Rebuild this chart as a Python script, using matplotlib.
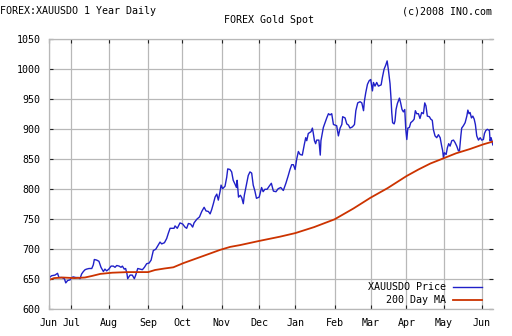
import pandas as pd
import matplotlib
matplotlib.use("Agg")
import matplotlib.pyplot as plt

# ---------------------------------------------------
# data (x = weekday count from START_DATE)
# ---------------------------------------------------
START_DATE = "2007-06-13"
N_DAYS = 261

PRICE_DAY = [
    0, 0.6, 1.6, 3.5, 5, 5.8, 7.4, 9, 9.8, 10.9, 12.3, 13.3, 14.2, 15.6, 17.2, 18.1,
    19.1, 20.1, 21.1, 22, 23.4, 25, 25.9, 26.5, 27.9, 29.2, 30.4, 31.8, 32.7, 33.7,
    35, 36.3, 37.6, 38.6, 39.6, 41, 42.1, 42.9, 44, 44.8, 45.6, 46, 47.4, 48.7, 49.9,
    50.7, 51.9, 53.2, 54.6, 55.8, 57.1, 58.5, 59.7, 61, 62.4, 63.9, 64.9, 65.9, 67.5,
    68.8, 69.8, 70.8, 73.1, 73.7, 75, 76.6, 78.2, 79.5, 80.5, 81.5, 82.8, 84, 84.8,
    86.4, 88, 89.3, 90.7, 91.8, 93.2, 94.2, 95.1, 96.1, 97.1, 98.1, 99, 100, 100.6,
    101.5, 102.9, 103.9, 104.5, 105.8, 106.8, 107.7, 108.7, 109.6, 110, 110.8, 111.9,
    112.7, 113.6, 114.2, 115.2, 116.5, 117.5, 118.5, 119.4, 120.4, 121.3, 122.9, 124.3,
    125.2, 126.2, 127.5, 128.7, 130, 131.2, 132.7, 134, 135.5, 137, 138.5, 139.8,
    140.9, 141.9, 142.9, 143.9, 144.8, 145.8, 146.8, 148.1, 149.3, 150.1, 150.7, 151.6,
    153.2, 154, 154.5, 155.2, 155.9, 156.5, 157.8, 158.6, 159, 160.4, 161.4, 162.4,
    163.4, 164.3, 165.3, 166.3, 167.3, 168.2, 169.2, 170.2, 171.2, 171.7, 173.1, 174.1,
    175.1, 176, 177.4, 178.6, 179.4, 180.5, 181.9, 182.9, 183.9, 184.4, 185.2, 186.2,
    187.2, 188.1, 189.1, 189.7, 190.6, 191.6, 192.6, 194.2, 194.9, 195.9, 196.9, 197.7,
    198.4, 199.4, 200, 200.4, 200.9, 201.8, 202.3, 202.9, 203.7, 204.9, 205.6, 206.4,
    207.2, 208, 208.6, 209.2, 209.8, 210.7, 211.5, 212.7, 213.5, 214.2, 215, 216,
    216.9, 217.9, 218.9, 219.7, 220.4, 221.2, 222.4, 223.2, 224.1, 224.7, 225.7, 226.7,
    227.7, 228.7, 229.6, 230.2, 230.6, 231.2, 232.2, 232.9, 233.7, 234.5, 235.5, 236.5,
    237.4, 238.4, 239.4, 240, 240.8, 241.3, 242.3, 243.3, 244.3, 244.9, 245.6, 246.2,
    247, 247.8, 248.6, 249.3, 250.1, 251.1, 252.1, 253, 254, 254.6, 255.4, 256.3,
    257.5, 257.9, 258.5, 259.5,
]
PRICE = [
    649, 654, 656, 657, 660, 653, 653, 651, 644, 648, 649, 653, 654, 653, 653, 651,
    659, 663, 666, 667, 668, 668, 674, 683, 682, 680, 670, 663, 667, 664,
    667, 672, 672, 670, 673, 672, 670, 672, 667, 668, 659, 651, 657, 657, 651,
    657, 668, 667, 666, 670, 676, 677, 682, 698, 700, 707, 712, 709, 711,
    718, 727, 735, 735, 739, 735, 744, 742, 737, 735, 743, 742, 737, 744,
    750, 754, 763, 770, 764, 763, 759, 766, 776, 787, 792, 782, 796, 807,
    801, 805, 820, 834, 833, 829, 815, 809, 803, 815, 787, 790,
    786, 776, 790, 804, 823, 829, 827, 807, 797, 785, 787, 803,
    796, 800, 800, 805, 810, 797, 796, 801, 803, 798, 810, 822,
    833, 841, 841, 833, 850, 863, 858, 857, 875, 886, 881, 893,
    896, 902, 894, 881, 876, 882, 882, 857, 881, 903, 911, 919,
    926, 924, 926, 908, 907, 906, 889, 902, 908, 921, 919, 909,
    907, 902, 904, 908, 931, 944, 946, 944, 931, 947, 961, 975,
    981, 983, 964, 978, 972, 978, 972, 974, 986, 1000, 1007, 1014,
    1000, 976, 950, 928, 911, 909, 914, 933, 943, 952, 944, 933,
    929, 933, 900, 883, 902, 903, 911, 914, 917, 931, 926, 926,
    918, 928, 926, 944, 939, 922, 921, 917, 915, 900, 889, 886,
    891, 886, 872, 864, 853, 861, 858, 869, 876, 872, 881, 882,
    878, 872, 864, 864, 889, 902, 906, 911, 922, 932, 926, 928,
    919, 922, 917, 908, 889, 882, 886, 882, 883, 893, 898, 900,
    898, 881, 886, 874,
]

MA_DAY = [0, 3, 8, 15, 21, 25, 30, 37, 46, 58, 62, 67.5, 72.7, 78.6, 86.4, 94.2, 100,
          105.9, 111.7, 123, 135, 144, 155, 167, 178, 188, 198, 209, 216, 223, 231,
          238, 246, 254, 260]
MA = [649, 652, 653, 652, 653, 655.5, 659, 661, 662, 662, 665.5, 668, 670, 677, 685,
      693, 699, 704, 707, 714, 721, 727, 737, 750, 768, 786, 802, 822, 833, 843, 852,
      860, 867, 875, 880]

Y_TICKS = [600, 650, 700, 750, 800, 850, 900, 950, 1000, 1050]

GRID_COLOR = "#b8b8b8"
PRICE_COLOR = "#2020c8"
MA_COLOR = "#cc3300"


def main():
    plt.rcParams["font.family"] = "DejaVu Sans Mono"
    plt.rcParams["font.size"] = 7.2

    days = pd.bdate_range(START_DATE, periods=N_DAYS)
    month_pos = [0] + [i for i in range(1, N_DAYS) if days[i].month != days[i - 1].month]
    month_lbl = [days[i].strftime("%b") for i in month_pos]

    fig = plt.figure(figsize=(5.12, 3.36), dpi=100)
    ax = fig.add_axes([49 / 512, 1 - 309.3 / 336, 444 / 512, 270 / 336])

    ax.plot(PRICE_DAY, PRICE, color=PRICE_COLOR, linewidth=1.0, label="XAUUSDO Price")
    ax.plot(MA_DAY, MA, color=MA_COLOR, linewidth=1.3, label="200 Day MA")

    ax.set_xlim(0, 259.6)
    ax.set_ylim(600, 1050)
    ax.set_xticks(month_pos)
    ax.set_xticklabels(month_lbl)
    ax.set_yticks(Y_TICKS)

    ax.grid(True, color=GRID_COLOR, linewidth=0.9)
    ax.set_axisbelow(True)
    for side in ["left", "bottom", "top"]:
        ax.spines[side].set_color(GRID_COLOR)
        ax.spines[side].set_linewidth(0.9)
    ax.spines["right"].set_visible(False)

    ax.tick_params(axis="both", direction="in", length=3, width=0.8, color="#222222",
                   top=True, right=True, labelsize=7.2, pad=6)

    ax.legend(loc="lower right", bbox_to_anchor=(0.975, 0.015), frameon=False,
              markerfirst=False, handlelength=2.9, handletextpad=0.7,
              labelspacing=0.3, borderpad=0, borderaxespad=0, fontsize=7.2)

    fig.text(0.0, 1 - 11 / 336, "FOREX:XAUUSDO 1 Year Daily", ha="left", va="center")
    fig.text(492 / 512, 1 - 11 / 336, "(c)2008 INO.com", ha="right", va="center")
    fig.text(268.5 / 512, 1 - 20 / 336, "FOREX Gold Spot", ha="center", va="center")

    fig.savefig("out.png", dpi=100)


if __name__ == "__main__":
    main()
